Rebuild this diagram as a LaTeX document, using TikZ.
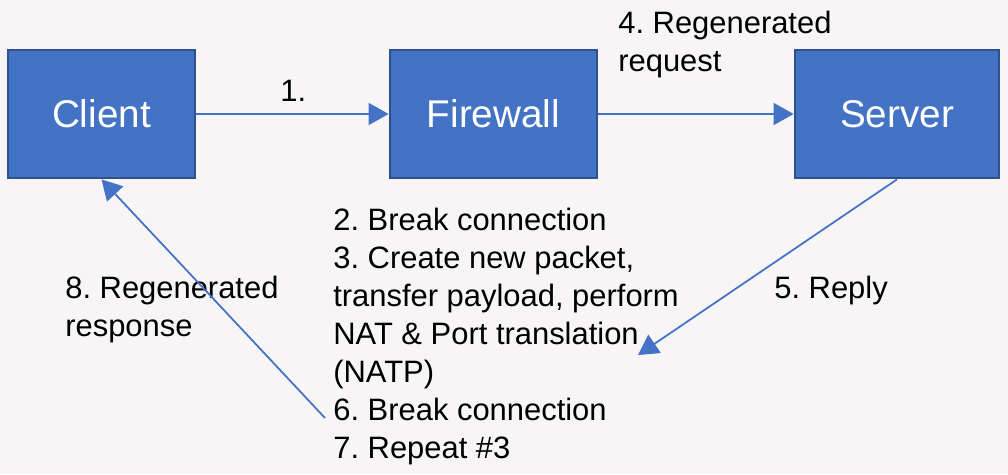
\documentclass[tikz,border=0pt]{standalone}
\usepackage{fontspec}
\setmainfont{Liberation Sans}
\usetikzlibrary{arrows.meta}
\definecolor{boxblue}{HTML}{4472C4}
\definecolor{boxedge}{HTML}{2F528F}
\definecolor{paper}{HTML}{F7F5F6}
\frenchspacing
\begin{document}
\begin{tikzpicture}[x=0.02cm,y=-0.02cm,
	box/.style={rectangle,draw=boxedge,fill=boxblue,line width=1.6pt,text=white,minimum height=2.56cm,font=\fontsize{22}{26}\selectfont},
	lbl/.style={inner sep=0pt,align=left,anchor=base west,font=\fontsize{17.6}{21.6}\selectfont},
	flow/.style={draw=boxblue,line width=1pt,-{Triangle[length=0.4cm,width=0.44cm]}}]
	\useasboundingbox (0,0) rectangle (1008,474);
	\fill[paper] (0,0) rectangle (1008,474);
	
	\node[box,minimum width=3.74cm] (client) at (101.5,114) {Client};
	\node[box,minimum width=4.14cm] (firewall) at (493.5,114) {Firewall};
	\node[box,minimum width=4.08cm] (server) at (897,114) {Server};
	
	% multi-line labels sit on the baseline of their last line
	\node[lbl] (l1) at (280,101) {1.};
	\node[lbl] (l4) at (618,71) {4. Regenerated\\request};
	\node[lbl] (l5) at (774,298) {5. Reply};
	\node[lbl] (l8) at (65,336) {8. Regenerated\\response};
	\node[lbl] (steps) at (333,458) {2. Break connection\\3. Create new packet,\\transfer payload, perform\\NAT \& Port translation\\(NATP)\\6. Break connection\\7. Repeat \#3};
	
	\coordinate (c5) at (638,355);
	\coordinate (c8) at (325,418);
	
	\draw[flow] (client) -- (firewall);
	\draw[flow] (firewall) -- (server);
	\draw[flow] (server.south) -- (c5);
	\draw[flow] (c8) -- (client.south);
	
\end{tikzpicture}
\end{document}
